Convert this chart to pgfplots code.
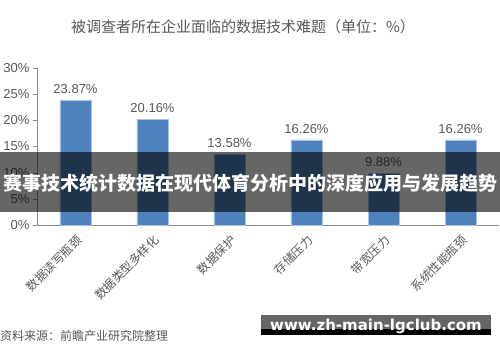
\documentclass[border=0pt]{standalone}
\usepackage{pgfplots}
\pgfplotsset{compat=1.18}
\usepackage{fontspec}
\setmainfont{Liberation Sans}
\newfontfamily\cjk{Noto Sans CJK SC}
\newfontfamily\dvs{DejaVu Sans}
\definecolor{barblue}{HTML}{4F81BD}
\definecolor{baredge}{HTML}{A7C2E4}
\definecolor{txtgray}{HTML}{595959}
\definecolor{axgray}{HTML}{8C8C8C}
\begin{document}
\begin{tikzpicture}[x=1pt,y=1pt]
\path[use as bounding box] (0,0) rectangle (500,362);
\fill[white] (0,0) rectangle (500,362);
\node[text=txtgray, font=\cjk\fontsize{15}{17}\selectfont] at (243,335) {被调查者所在企业面临的数据技术难题（单位：\%）};
\begin{axis}[
  at={(37pt,137pt)}, anchor=south west,
  scale only axis, width=462pt, height=157pt,
  xmin=-0.5, xmax=5.5, ymin=0, ymax=30,
  axis x line=bottom, axis y line=left,
  axis line style={-, draw=axgray},
  ytick={0,5,10,15,20,25,30},
  yticklabels={0\%,5\%,10\%,15\%,20\%,25\%,30\%},
  yticklabel style={font=\fontsize{13}{13}\selectfont, text=txtgray},
  tick align=outside, major tick length=4pt,
  major y tick style={draw=axgray},
  major x tick style={draw=none},
  xtick={0,1,2,3,4,5},
  xticklabels={数据读写瓶颈,数据类型多样化,数据保护,存储压力,带宽压力,系统性能瓶颈},
  xticklabel style={font=\cjk\fontsize{12}{12}\selectfont, text=txtgray, rotate=45, anchor=north east},
  ybar, bar width=31pt,
  nodes near coords, point meta=explicit symbolic,
  every node near coord/.append style={font=\fontsize{13}{13}\selectfont, text=txtgray, yshift=3pt},
]
\addplot[fill=barblue, draw=baredge] coordinates {
  (0,23.87) [23.87\%]
  (1,20.16) [20.16\%]
  (2,13.58) [13.58\%]
  (3,16.26) [16.26\%]
  (4,9.88) [9.88\%]
  (5,16.26) [16.26\%]
};
\end{axis}
\fill[black, opacity=0.6] (0,150) rectangle (500,210);
\node[text=white, font=\cjk\bfseries\fontsize{19}{19}\selectfont] at (250,179) {赛事技术统计数据在现代体育分析中的深度应用与发展趋势};
\node[anchor=west, text=txtgray, font=\cjk\fontsize{12}{12}\selectfont, inner sep=0pt] at (0,26) {资料来源：前瞻产业研究院整理};
\fill[black!60] (261,27) rectangle (491,47);
\fill[black] (261,27) rectangle (491,33);
\node[text=white, font=\dvs\bfseries\fontsize{15}{15}\selectfont] at (376,36) {www.zh-main-lgclub.com};
\end{tikzpicture}
\end{document}
